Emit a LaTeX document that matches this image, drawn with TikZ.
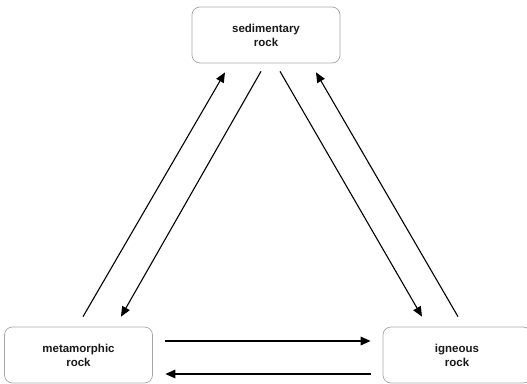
\documentclass[tikz,border=0pt]{standalone}
\usepackage{fontspec}
\setmainfont{Liberation Sans}
\usetikzlibrary{arrows.meta,calc}
\begin{document}
\begin{tikzpicture}[x=1pt,y=-1pt,
  box/.style={draw=black!35,line width=0.7pt,rounded corners=8pt,minimum width=148pt,minimum height=56pt,align=center,inner sep=0pt,font=\fontsize{11.5}{14}\selectfont\bfseries,text=black!90},
  arr/.style={line width=1.1pt,-{Triangle[length=10pt,width=8.5pt]}},
  harr/.style={line width=1.5pt,-{Triangle[length=10pt,width=8.5pt]}}]
\useasboundingbox (0,0) rectangle (527,383);
\node[box] (sed) at (266,35) {sedimentary\\rock};
\node[box] (met) at (78.5,355) {metamorphic\\rock};
\node[box] (ign) at (457,355) {igneous\\rock};
\draw[arr] ($(met.north)+(4.5,-10)$) -- ($(sed.south)+(-41,9)$);
\draw[arr] ($(sed.south)+(-5,8)$) -- ($(met.north)+(42.5,-10)$);
\draw[arr] ($(sed.south)+(14,8)$) -- ($(ign.north)+(-35,-10)$);
\draw[arr] ($(ign.north)+(1,-10)$) -- ($(sed.south)+(50,9)$);
\draw[harr] ($(met.east)+(12.5,-14)$) -- ($(ign.west)+(-12,-14)$);
\draw[harr] ($(ign.west)+(-12,19)$) -- ($(met.east)+(12.5,19)$);
\end{tikzpicture}
\end{document}
